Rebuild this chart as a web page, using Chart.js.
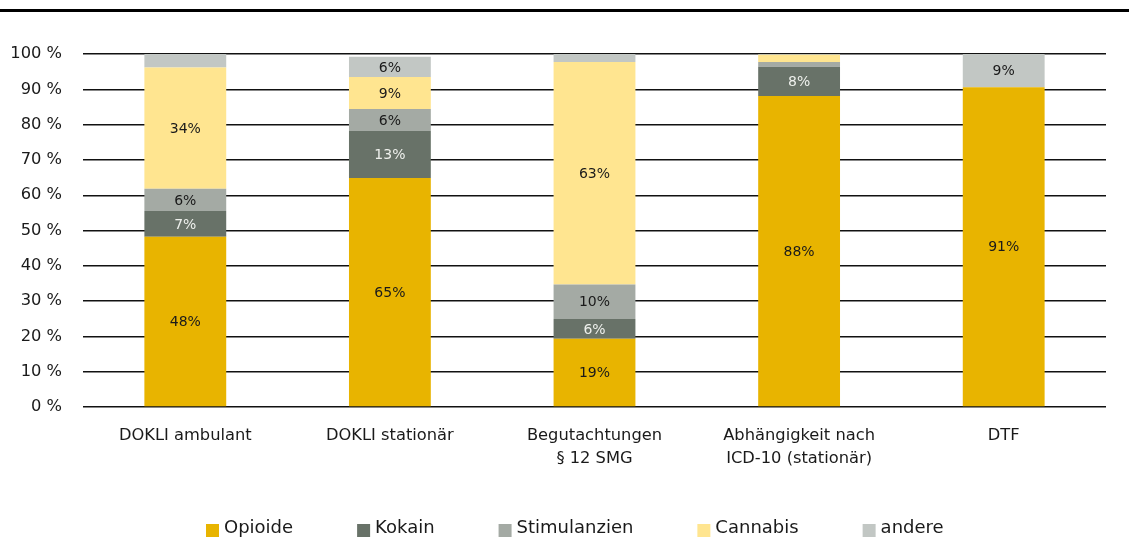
<!DOCTYPE html>
<html>
<head>
<meta charset="utf-8">
<script src="https://cdn.jsdelivr.net/npm/chart.js@4"></script>
<style>
  body { margin: 0; background: #fff; }
  #wrap { position: relative; width: 1129px; height: 537px; }
</style>
</head>
<body>
<div id="wrap"><canvas id="grafico"></canvas></div>
<script>
const kategorien = [
    'DOKLI ambulant',
    'DOKLI stationär',
    ['Begutachtungen', '§ 12 SMG'],
    ['Abhängigkeit nach', 'ICD-10 (stationär)'],
    'DTF'
]

const opioide      = [48.2, 64.9, 19.3, 88.1, 90.6]
const kokain       = [7.3, 13.3, 5.6, 8.3, 0]
const stimulanzien = [6.3, 6.2, 9.8, 1.3, 0]
const cannabis     = [34.4, 9.1, 63.0, 2.1, 0]
const andere       = [3.8, 5.7, 2.3, 0.2, 9.4]

const yTicks = [0, 10, 20, 30, 40, 50, 60, 70, 80, 90, 100]

const schrift = 'DejaVu Sans'

// dunkle Beschriftung, nur Kokain hell
const labelFarbe = ['#1a1a1a', '#eef0ec', '#1a1a1a', '#1a1a1a', '#1a1a1a']

const obereLinie = {
    id: 'obereLinie',
    beforeDraw(chart) {
        const ctx = chart.ctx
        ctx.save()
        ctx.fillStyle = '#000'
        ctx.fillRect(0, 9, chart.width, 3)
        ctx.restore()
    }
}

const werteLabels = {
    id: 'werteLabels',
    afterDatasetsDraw(chart) {
        const ctx = chart.ctx
        ctx.save()
        ctx.font = '14px "' + schrift + '"'
        ctx.textAlign = 'center'
        ctx.textBaseline = 'middle'
        chart.data.datasets.forEach((dataset, i) => {
            const meta = chart.getDatasetMeta(i)
            meta.data.forEach((bar, j) => {
                const v = dataset.data[j]
                if (v < 5) return
                const p = bar.getProps(['x', 'y', 'base'], true)
                ctx.fillStyle = labelFarbe[i]
                ctx.fillText(Math.round(v) + '%', p.x, (p.y + p.base) / 2 + 1)
            })
        })
        ctx.restore()
    }
}

const legende = {
    id: 'legende',
    afterDraw(chart) {
        const ctx = chart.ctx
        ctx.save()
        ctx.font = '18px "' + schrift + '"'
        ctx.textBaseline = 'middle'
        ctx.textAlign = 'left'
        let x = 206
        chart.data.datasets.forEach((dataset) => {
            ctx.fillStyle = dataset.backgroundColor
            ctx.fillRect(x, 524, 13, 13)
            ctx.fillStyle = '#1a1a1a'
            ctx.fillText(dataset.label, x + 18, 528)
            x += 18 + ctx.measureText(dataset.label).width + 64
        })
        ctx.restore()
    }
}

const grafico = new Chart(document.getElementById('grafico'), {
    type: 'bar',
    data: {
        labels: kategorien,
        datasets: [
            { label: 'Opioide', data: opioide, backgroundColor: '#e8b400' },
            { label: 'Kokain', data: kokain, backgroundColor: '#687268' },
            { label: 'Stimulanzien', data: stimulanzien, backgroundColor: '#a4aaa4' },
            { label: 'Cannabis', data: cannabis, backgroundColor: '#ffe590' },
            { label: 'andere', data: andere, backgroundColor: '#c2c7c4' }
        ]
    },
    options: {
        responsive: true,
        maintainAspectRatio: false,
        animation: false,
        datasets: {
            bar: { categoryPercentage: 1, barPercentage: 0.4, borderWidth: 0 }
        },
        layout: { padding: { top: 54, right: 23, left: 0, bottom: 0 } },
        plugins: {
            legend: { display: false },
            tooltip: { enabled: false }
        },
        scales: {
            x: {
                stacked: true,
                grid: { display: false, drawTicks: false },
                border: { display: false },
                ticks: {
                    padding: 17,
                    color: '#1a1a1a',
                    maxRotation: 0,
                    font: { family: schrift, size: 16.3, lineHeight: 1.44 }
                },
                afterFit(scale) { scale.height = 130 }
            },
            y: {
                stacked: true,
                min: 0,
                max: 100,
                afterBuildTicks(scale) { scale.ticks = yTicks.map(v => ({ value: v })) },
                grid: { color: '#111', lineWidth: 1.4, drawTicks: false },
                border: { display: false },
                ticks: {
                    padding: 21,
                    color: '#1a1a1a',
                    font: { family: schrift, size: 16.3 },
                    callback: v => v + ' %'
                },
                afterFit(scale) { scale.width = 83 }
            }
        }
    },
    plugins: [obereLinie, werteLabels, legende]
});
</script>
</body>
</html>
